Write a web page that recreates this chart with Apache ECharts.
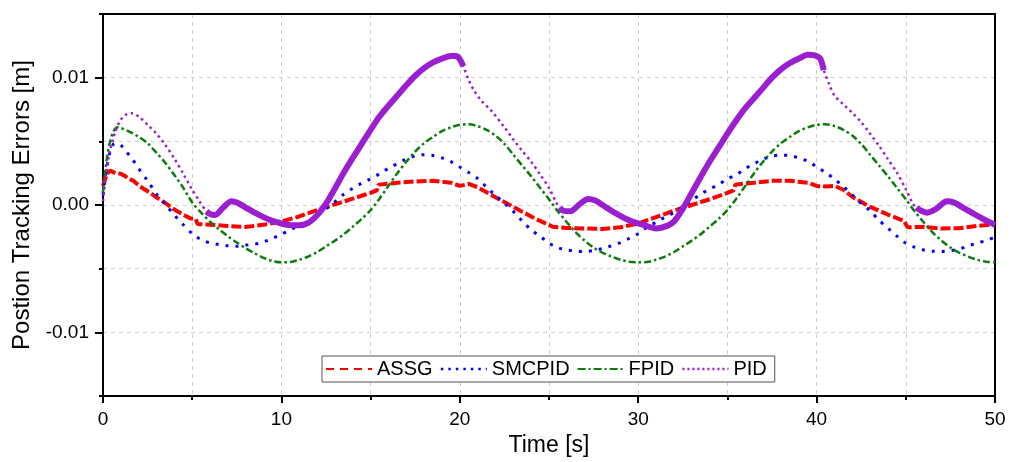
<!DOCTYPE html>
<html><head><meta charset="utf-8">
<script src="https://cdn.jsdelivr.net/npm/echarts@6/dist/echarts.min.js"></script>
<style>html,body{margin:0;padding:0;background:#fff}#c{width:1011px;height:462px}</style>
</head><body><div id="c"></div>
<script>
// values in millimetres (converted to metres for the axis)
const seriesNames = ['ASSG', 'SMCPID', 'FPID', 'PID'];
const xTickLabels = [0, 10, 20, 30, 40, 50];
const yTickLabels = [-0.01, 0, 0.01];

const assgT = [0,0.2,0.4,0.7,1.0,1.2,1.4,1.7,2.0,2.3,2.6,3.0,3.5,4.0,4.5,4.9,5.2,5.3,6.0,7.0,8.0,9.0,10.0,11.0,12.0,13.0,14.0,15.0,15.35,15.45,16.5,17.5,18.5,19.5,20.0,20.5,21.0,21.5,22.0,23.0,24.0,24.5,24.9,25.2,26,27,28,29,30,31,32,33,34,35,35.35,35.45,36.5,37.5,38.5,39.5,40,40.5,41,41.5,42,43,44,44.9,45.1,46,47,48,49,50];
const assgMm = [1.5,2.4,2.7,2.5,2.45,2.3,2.1,1.9,1.55,1.25,1.0,0.6,0.15,-0.35,-0.75,-1.05,-1.1,-1.5,-1.55,-1.65,-1.72,-1.55,-1.3,-0.9,-0.4,0.05,0.5,0.95,1.15,1.6,1.75,1.85,1.9,1.75,1.5,1.65,1.4,1.0,0.6,-0.15,-0.9,-1.25,-1.5,-1.7,-1.8,-1.85,-1.88,-1.75,-1.45,-0.95,-0.45,0.0,0.45,0.95,1.15,1.6,1.75,1.9,1.9,1.75,1.5,1.45,1.5,1.2,0.65,-0.15,-0.75,-1.25,-1.75,-1.72,-1.85,-1.82,-1.65,-1.5];

const smcT = [0,0.2,0.4,0.6,0.8,1.0,1.3,1.6,2.0,2.5,3.0,3.5,4.0,4.5,5.0,5.5,6.0,6.5,7.0,7.5,8.0,8.5,9.0,9.5,10.0,10.5,11.0,11.5,12.0,12.5,13.0,13.5,14.0,14.5,15.0,15.5,16.0,16.5,17.0,17.5,18.0,18.5,19.0,19.5,20.0,20.5,21.0,21.5,22.0,22.5,23.0,23.5,24.0,24.5,25.0,25.5,26.0,26.5,27.0,27.5,28.0,28.5,29.0,29.5,30.0,30.5,31.0,31.5,32.0,32.5,33.0,33.5,34.0,34.5,35.0,35.5,36.0,36.5,37.0,37.5,38.0,38.5,39.0,39.5,40.0,40.5,41.0,41.5,42.0,42.5,43.0,43.5,44.0,44.5,45.0,45.5,46.0,46.5,47.0,47.5,48.0,48.5,49.0,49.5,50.0];
const smcMm = [0.8,2.8,4.2,4.8,4.85,4.7,4.2,3.7,2.85,1.9,0.86,0.05,-0.8,-1.55,-2.25,-2.72,-2.98,-3.1,-3.2,-3.24,-3.15,-3.08,-2.9,-2.62,-2.3,-1.95,-1.62,-1.3,-0.85,-0.3,0.25,0.85,1.3,1.72,2.05,2.45,2.88,3.25,3.6,3.85,3.95,3.88,3.7,3.4,2.98,2.55,2.08,1.4,0.75,0.15,-0.5,-1.25,-1.95,-2.45,-3.0,-3.35,-3.53,-3.63,-3.65,-3.57,-3.42,-3.2,-2.95,-2.62,-2.25,-1.75,-1.35,-0.95,-0.6,-0.15,0.35,0.85,1.25,1.6,2.05,2.37,2.85,3.25,3.6,3.83,3.92,3.88,3.7,3.43,3.0,2.55,2.05,1.45,0.8,0.12,-0.45,-1.2,-1.82,-2.45,-3.0,-3.32,-3.53,-3.63,-3.65,-3.58,-3.45,-3.22,-2.98,-2.8,-2.5];

const fpidT = [0,0.2,0.4,0.6,0.8,1.0,1.5,2.0,2.5,3.0,3.5,4.0,4.5,5.0,5.5,6.0,6.5,7.0,7.5,8.0,8.5,9.0,9.5,10.0,10.5,11.0,11.5,12.0,12.5,13.0,13.5,14.0,14.5,15.0,15.5,16.0,16.5,17.0,17.5,18.0,18.5,19.0,19.5,20.0,20.5,21.0,21.5,22.0,22.5,23.0,23.5,24.0,24.5,25.0,25.5,26.0,26.5,27.0,27.5,28.0,28.5,29.0,29.5,30.0,30.5,31.0,31.5,32.0,32.5,33.0,33.5,34.0,34.5,35.0,35.5,36.0,36.5,37.0,37.5,38.0,38.5,39.0,39.5,40.0,40.5,41.0,41.5,42.0,42.5,43.0,43.5,44.0,44.5,45.0,45.5,46.0,46.5,47.0,47.5,48.0,48.5,49.0,49.5,50.0];
const fpidMm = [1.0,3.5,5.0,5.8,6.1,6.05,5.75,5.35,4.85,4.1,3.3,2.35,1.35,0.2,-0.6,-1.3,-1.9,-2.45,-2.95,-3.4,-3.8,-4.15,-4.4,-4.5,-4.48,-4.3,-4.05,-3.7,-3.25,-2.8,-2.3,-1.7,-1.1,-0.4,0.5,1.5,2.5,3.4,4.2,4.85,5.35,5.8,6.1,6.3,6.35,6.2,5.9,5.45,4.8,3.95,3.1,2.25,1.35,0.45,-0.5,-1.35,-2.15,-2.8,-3.35,-3.75,-4.05,-4.3,-4.45,-4.5,-4.48,-4.3,-4.05,-3.7,-3.25,-2.8,-2.3,-1.7,-1.1,-0.4,0.5,1.5,2.5,3.4,4.2,4.85,5.35,5.8,6.1,6.3,6.35,6.2,5.9,5.45,4.8,3.95,3.1,2.25,1.35,0.45,-0.5,-1.35,-2.15,-2.8,-3.35,-3.75,-4.05,-4.3,-4.45,-4.5];

const pidT = [0,0.2,0.4,0.7,1.0,1.3,1.6,2.0,2.5,3.0,3.5,4.0,4.5,5.0,5.4,5.8,6.0,6.3,6.7,7.2,7.5,8.0,8.5,9.0,9.5,10.0,10.5,11.0,11.5,12.0,12.5,13.0,13.5,14.0,14.5,15.0,15.5,16.0,16.5,17.0,17.5,18.0,18.5,19.0,19.5,19.8,20.0,20.2,20.5,20.8,21.2,21.8,22.5,23.0,23.5,24.0,24.5,25.0,25.4,25.6,25.8,26.2,26.7,27.2,27.6,28.0,28.5,29.0,29.5,30.0,30.5,31.0,31.5,32.0,32.5,33.0,33.5,34.0,34.5,35.0,35.5,36.0,36.5,37.0,37.5,38.0,38.5,39.0,39.5,39.9,40.2,40.4,40.7,41.0,41.5,42.0,42.5,43.0,43.5,44.0,44.5,45.0,45.4,45.6,45.8,46.2,46.7,47.3,47.7,48.2,48.7,49.2,49.6,50.0];
const pidMm = [0.3,2.8,4.3,5.8,6.7,7.1,7.2,6.95,6.3,5.6,4.7,3.65,2.45,1.2,0.3,-0.5,-0.7,-0.78,-0.25,0.3,0.2,-0.2,-0.6,-0.95,-1.25,-1.45,-1.58,-1.6,-1.4,-0.8,0.1,1.3,2.55,3.7,4.8,5.9,6.95,7.8,8.6,9.4,10.15,10.75,11.2,11.5,11.7,11.7,11.45,10.9,9.8,9.0,8.2,7.35,6.1,5.15,4.25,3.4,2.4,1.35,0.2,-0.2,-0.45,-0.5,0.05,0.47,0.35,0.0,-0.45,-0.85,-1.2,-1.45,-1.65,-1.85,-1.7,-1.3,-0.3,0.95,2.2,3.4,4.5,5.6,6.65,7.6,8.4,9.2,10.0,10.65,11.15,11.5,11.8,11.75,11.5,10.6,9.5,8.6,7.9,7.25,6.5,5.6,4.65,3.6,2.55,1.25,0.1,-0.2,-0.4,-0.6,-0.3,0.3,0.2,-0.2,-0.6,-1.0,-1.3,-1.55];
// time spans where the PID trace is a dense noisy band
const pidBandSpans = [[5.8, 20.2], [25.6, 40.4], [45.6, 50]];

const toPairs = (t, v) => t.map((x, i) => [x, v[i] / 1000]);
const bandData = [];
pidBandSpans.forEach((s, k) => {
  if (k > 0) bandData.push([s[0] - 0.01, null]);
  pidT.forEach((x, i) => { if (x >= s[0] && x <= s[1]) bandData.push([x, pidMm[i] / 1000]); });
});

const FONT = '"Liberation Sans", Arial, sans-serif';
const chart = echarts.init(document.getElementById('c'), null, {renderer: 'canvas'});
const isLabelTick = v => yTickLabels.some(l => Math.abs(l - v) < 1e-9);
const grid = {color: '#cfcfcf', type: [4, 4], width: 1};
const hiddenIcon = {opacity: 0};

chart.setOption({
  animation: false,
  backgroundColor: '#fff',
  textStyle: {fontFamily: FONT},
  grid: {left: 103, right: 16, top: 14, bottom: 65, show: false},
  legend: {
    left: 322, top: 356, orient: 'horizontal',
    itemWidth: 46, itemHeight: 14, itemGap: 7,
    padding: [3, 8, 3, 3],
    backgroundColor: '#fff', borderColor: '#555', borderWidth: 1, borderRadius: 0,
    textStyle: {fontSize: 20, color: '#000', fontFamily: FONT},
    data: [
      {name: 'ASSG', itemStyle: hiddenIcon, lineStyle: {type: [8, 6], width: 2}},
      {name: 'SMCPID', itemStyle: hiddenIcon, lineStyle: {type: [2.5, 5], width: 2.5}},
      {name: 'FPID', itemStyle: hiddenIcon, lineStyle: {type: [8, 3, 2, 3], width: 2}},
      {name: 'PID', itemStyle: hiddenIcon, lineStyle: {type: [2, 3], width: 2.5}}
    ]
  },
  xAxis: [{
    type: 'value', min: 0, max: 50, interval: 10, position: 'bottom',
    name: 'Time [s]', nameLocation: 'middle', nameGap: 38,
    nameTextStyle: {fontSize: 23, color: '#000', fontFamily: FONT},
    axisLine: {onZero: false, lineStyle: {color: '#000', width: 2}},
    axisTick: {show: true, inside: false, length: 7, lineStyle: {color: '#000', width: 2}},
    minorTick: {show: true, splitNumber: 2, length: 4, lineStyle: {color: '#000', width: 2}},
    axisLabel: {fontSize: 19, color: '#000', margin: 14, fontFamily: FONT,
      formatter: v => xTickLabels.includes(v) ? String(v) : ''},
    splitLine: {show: true, showMinLine: false, showMaxLine: false, lineStyle: grid},
    minorSplitLine: {show: true, lineStyle: grid}
  }, {
    type: 'value', min: 0, max: 50, position: 'top',
    axisLine: {show: true, onZero: false, lineStyle: {color: '#000', width: 2}},
    axisTick: {show: false}, axisLabel: {show: false}, splitLine: {show: false}
  }],
  yAxis: [{
    type: 'value', min: -0.015, max: 0.015, interval: 0.005, position: 'left',
    name: 'Postion Tracking Errors [m]', nameLocation: 'middle', nameGap: 68,
    nameTextStyle: {fontSize: 24, color: '#000', fontFamily: FONT},
    axisLine: {show: true, onZero: false, lineStyle: {color: '#000', width: 2}},
    axisTick: {show: true, inside: false, length: 4, lineStyle: {color: '#000', width: 2}},
    axisLabel: {fontSize: 19, color: '#000', margin: 14, fontFamily: FONT,
      formatter: v => isLabelTick(v) ? (Math.abs(v) < 1e-9 ? '0.00' : v.toFixed(2)) : ''},
    splitLine: {show: true, showMinLine: false, showMaxLine: false, lineStyle: grid}
  }, {
    type: 'value', min: -0.015, max: 0.015, position: 'left', offset: 0,
    axisLine: {show: false, onZero: false}, splitLine: {show: false},
    axisLabel: {show: true, customValues: yTickLabels, formatter: () => ''},
    axisTick: {show: true, inside: false, length: 8, customValues: yTickLabels, lineStyle: {color: '#000', width: 2}}
  }, {
    type: 'value', min: -0.015, max: 0.015, position: 'right',
    axisLine: {show: true, onZero: false, lineStyle: {color: '#000', width: 2}},
    axisTick: {show: false}, axisLabel: {show: false}, splitLine: {show: false}
  }],
  series: [
    {name: 'ASSG', type: 'line', data: toPairs(assgT, assgMm), showSymbol: false, symbol: 'none',
      lineStyle: {color: '#ff0000', width: 4, type: [10, 3]}, itemStyle: {color: '#ff0000'}, z: 2},
    {name: 'SMCPID', type: 'line', data: toPairs(smcT, smcMm), showSymbol: false, symbol: 'none', smooth: 0.3,
      lineStyle: {color: '#0000ff', width: 3, type: [3, 7]}, itemStyle: {color: '#0000ff'}, z: 3},
    {name: 'FPID', type: 'line', data: toPairs(fpidT, fpidMm), showSymbol: false, symbol: 'none', smooth: 0.3,
      lineStyle: {color: '#0a7d0a', width: 2.5, type: [7, 3, 2.5, 3]}, itemStyle: {color: '#0a7d0a'}, z: 3},
    {name: 'PID', type: 'line', data: toPairs(pidT, pidMm), showSymbol: false, symbol: 'none', smooth: 0.3,
      lineStyle: {color: '#9b1fd0', width: 2.5, type: [2.5, 3.5]}, itemStyle: {color: '#9b1fd0'}, z: 4},
    {name: 'PID', type: 'line', data: bandData, showSymbol: false, symbol: 'none', smooth: 0.3, connectNulls: false,
      lineStyle: {color: '#9b1fd0', width: 6}, itemStyle: {color: '#9b1fd0'}, z: 4}
  ]
});
</script></body></html>
